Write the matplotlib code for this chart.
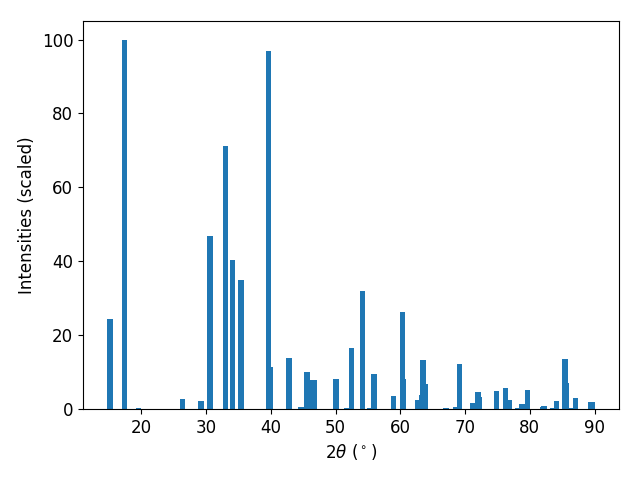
import matplotlib
matplotlib.use("Agg")
import matplotlib.pyplot as plt

two_theta = [15.15, 17.45, 19.6, 26.4, 29.2, 30.6, 33.06, 34.1, 35.4, 39.67, 39.9,
             42.8, 44.65, 45.6, 46.5, 46.7, 50.06, 51.7, 52.5, 54.2, 55.2, 55.93,
             59.0, 60.4, 60.55, 62.73, 63.3, 63.5, 63.95, 67.06, 68.6, 69.2, 71.2,
             72.0, 72.15, 74.8, 76.2, 76.8, 78.1, 78.8, 79.6, 82.0, 82.2, 83.5,
             84.1, 85.45, 85.6, 86.2, 87.0, 89.45, 89.6]
intensity = [24.4, 100, 0.35, 2.7, 2.2, 46.9, 71.3, 40.4, 35.0, 97.0, 11.4,
             13.8, 0.5, 10.0, 7.9, 7.8, 8.1, 0.3, 16.5, 32.0, 0.3, 9.5,
             3.5, 26.3, 8.1, 2.4, 3.8, 13.3, 6.8, 0.35, 0.6, 12.2, 1.6,
             4.6, 3.3, 4.9, 5.7, 2.4, 0.3, 1.4, 5.1, 0.5, 0.8, 0.3,
             2.2, 13.6, 7.0, 0.3, 3.0, 1.8, 1.9]

plt.rcParams['font.size'] = 12
fig, ax = plt.subplots(figsize=(6.4, 4.8), dpi=100)
ax.bar(two_theta, intensity, width=0.8, color='#1f77b4')
ax.set_xlabel(r"$2\theta$ ($^\circ$)")
ax.set_ylabel("Intensities (scaled)")
fig.subplots_adjust(left=0.1297, right=0.967, top=0.956, bottom=0.148)
fig.savefig("out.png", dpi=100)
